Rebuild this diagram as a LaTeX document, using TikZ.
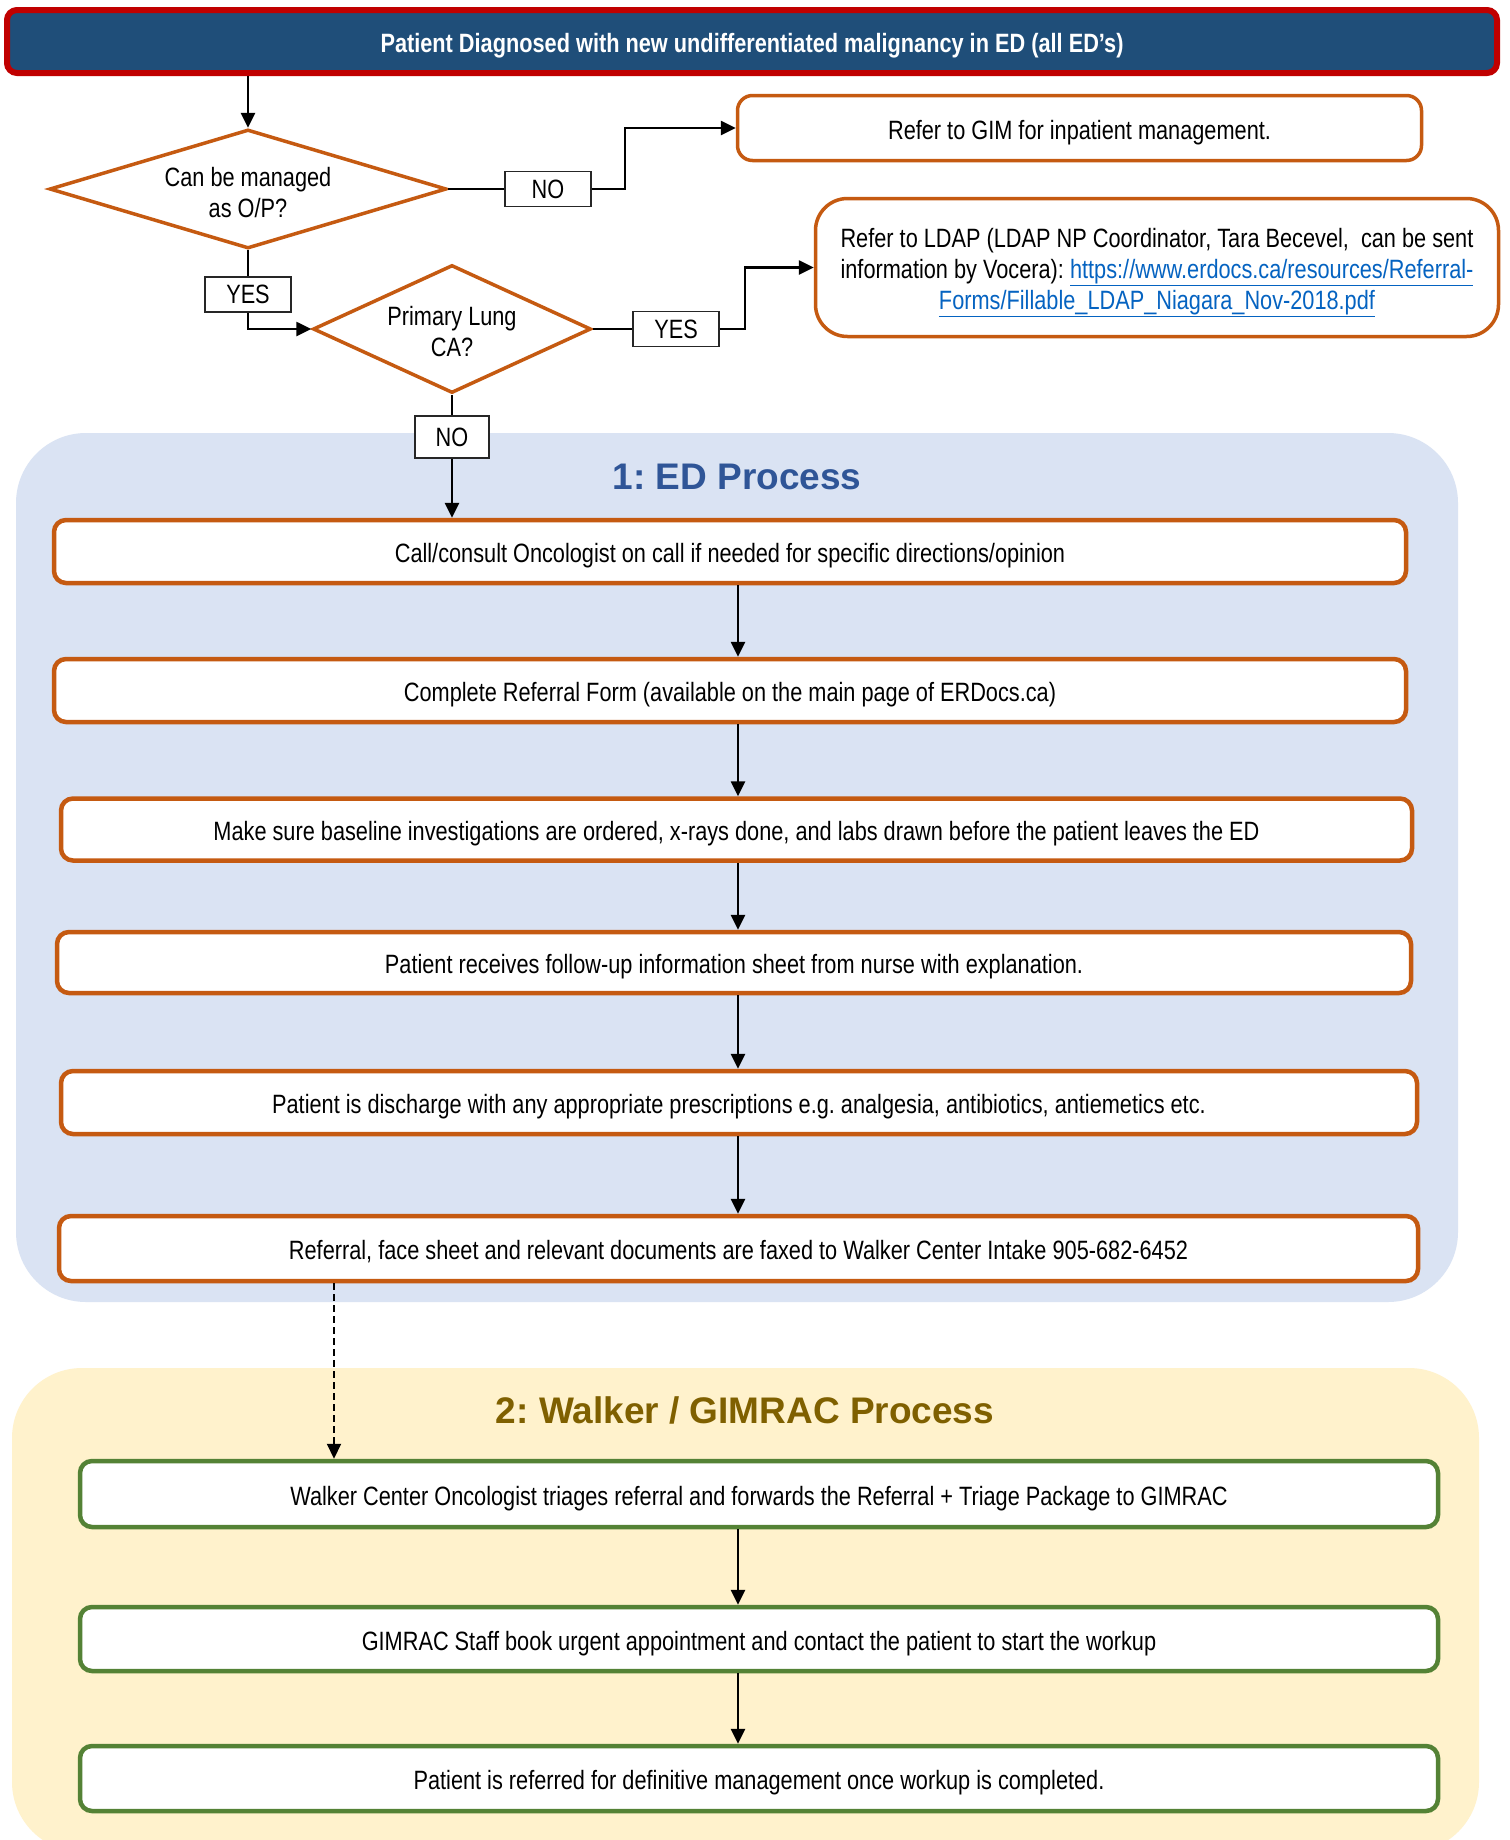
\documentclass[tikz,border=0pt]{standalone}
\usepackage{fontspec}
\setmainfont{Liberation Sans}[FakeStretch=0.82]
\newfontfamily\titlefont{Liberation Sans}
\usetikzlibrary{arrows.meta,shapes.geometric,calc}
\definecolor{hdrblue}{HTML}{1F4E79}
\definecolor{hdrred}{HTML}{C00000}
\definecolor{orng}{HTML}{C55A11}
\definecolor{grn}{HTML}{548235}
\definecolor{edfill}{HTML}{DAE3F3}
\definecolor{wkfill}{HTML}{FFF2CC}
\definecolor{edtitle}{HTML}{2F5597}
\definecolor{wktitle}{HTML}{7F6000}
\definecolor{linkblue}{HTML}{0563C1}
\frenchspacing
\begin{document}
\begin{tikzpicture}[x=1pt,y=-1pt,
  every node/.style={font=\fontsize{26.5}{31}\selectfont},
  obox/.style={draw=orng, line width=4.5pt, rounded corners=12pt, fill=white, inner sep=0pt, text height=22pt, text depth=0pt},
  gbox/.style={draw=grn, line width=4.5pt, rounded corners=12pt, fill=white, inner sep=0pt, text height=22pt, text depth=0pt},
  lbl/.style={draw=black!85, line width=1.5pt, fill=white, minimum width=86pt, minimum height=35pt, inner sep=0pt},
  dec/.style={diamond, draw=orng, line width=3.5pt, fill=white, inner sep=0pt},
  conn/.style={line width=2.6pt, black},
  arr/.style={conn, -{Triangle[length=15pt,width=14pt]}},
  ttl/.style={font=\titlefont\bfseries\fontsize{37}{44}\selectfont}
]
\useasboundingbox (0,0) rectangle (1510,1840);
\fill[white] (0,0) rectangle (1510,1840);
\begin{scope}
\clip (0,0) rectangle (1510,1840);
\fill[edfill, rounded corners=70pt] (16,433) rectangle (1458,1302);
\fill[wkfill, rounded corners=70pt] (12,1368) rectangle (1479,1852);
\end{scope}

% header
\node[draw=hdrred, line width=6pt, fill=hdrblue, rounded corners=10pt, minimum width=1490pt, minimum height=63pt, inner sep=0pt, text height=21pt, text depth=0pt, text=white, font=\bfseries\fontsize{26.5}{31}\selectfont] (hdr) at (752,41.5) {Patient Diagnosed with new undifferentiated malignancy in ED (all ED’s)};

% decisions
\node[dec, minimum width=397pt, minimum height=119pt, shape aspect=3.34, text height=0pt, text depth=5pt] (d1) at (248,189) {\begin{tabular}[t]{@{}c@{}}Can be managed\\as O/P?\end{tabular}};
\node[dec, minimum width=278pt, minimum height=128pt, shape aspect=2.17, text height=0pt, text depth=8pt] (d2) at (452,329) {\begin{tabular}[t]{@{}c@{}}Primary Lung\\CA?\end{tabular}};

% side boxes
\node[draw=orng, line width=3.5pt, rounded corners=15pt, fill=white, minimum width=684pt, minimum height=65pt, inner sep=0pt, text height=22pt, text depth=0pt] (gim) at (1079.5,128) {Refer to GIM for inpatient management.};
\node[draw=orng, line width=3.5pt, rounded corners=32pt, fill=white, minimum width=683pt, minimum height=138pt, inner sep=0pt, text height=0pt, text depth=41pt] (ldap) at (1157,267.5) {\begin{tabular}[t]{@{}c@{}}Refer to LDAP (LDAP NP Coordinator, Tara Becevel,\ \ can be sent\\information by Vocera): \textcolor{linkblue}{\underline{https://www.erdocs.ca/resources/Referral-}}\\\textcolor{linkblue}{\underline{Forms/Fillable\_LDAP\_Niagara\_Nov-2018.pdf}}\end{tabular}};

% labels
\node[lbl] (no1) at (548,189) {NO};
\node[lbl] (yes1) at (248,294.5) {YES};
\node[lbl] (yes2) at (676,329) {YES};
\node[lbl, minimum width=74pt, minimum height=42pt] (no2) at (452,437) {NO};

% titles
\node[ttl, text=edtitle] (t1) at (737,477) {1: ED Process};
\node[ttl, text=wktitle] (t2) at (745,1410) {2: Walker / GIMRAC Process};

% ED boxes
\node[obox, minimum width=1352pt, minimum height=63pt] (b1) at (730,551.5) {Call/consult Oncologist on call if needed for specific directions/opinion};
\node[obox, minimum width=1352pt, minimum height=63pt] (b2) at (730,690.5) {Complete Referral Form (available on the main page of ERDocs.ca)};
\node[obox, minimum width=1351pt, minimum height=62pt] (b3) at (736.5,829.5) {Make sure baseline investigations are ordered, x-rays done, and labs drawn before the patient leaves the ED};
\node[obox, minimum width=1354pt, minimum height=61pt] (b4) at (734,962.5) {Patient receives follow-up information sheet from nurse with explanation.};
\node[obox, minimum width=1356pt, minimum height=63pt] (b5) at (739,1102.5) {Patient is discharge with any appropriate prescriptions e.g. analgesia, antibiotics, antiemetics etc.};
\node[obox, minimum width=1359pt, minimum height=65pt] (b6) at (738.5,1248.5) {Referral, face sheet and relevant documents are faxed to Walker Center Intake 905-682-6452};

% Walker boxes
\node[gbox, minimum width=1358pt, minimum height=66pt] (g1) at (759,1494) {Walker Center Oncologist triages referral and forwards the Referral + Triage Package to GIMRAC};
\node[gbox, minimum width=1358pt, minimum height=64pt] (g2) at (759,1639) {GIMRAC Staff book urgent appointment and contact the patient to start the workup};
\node[gbox, minimum width=1358pt, minimum height=65pt] (g3) at (759,1778.5) {Patient is referred for definitive management once workup is completed.};

% connectors
\draw[arr] (hdr.south -| d1.north) -- (d1.north);
\draw[conn] (d1.east) -- (no1.west);
\coordinate (k1) at (625,189);
\draw[arr] (no1.east) -- (k1) |- (gim.west);
\draw[conn] (d1.south) -- (yes1.north);
\draw[arr] (yes1.south) |- (d2.west);
\draw[conn] (d2.east) -- (yes2.west);
\coordinate (k2) at (745,329);
\draw[arr] (yes2.east) -- (k2) |- (ldap.west);
\draw[conn] (d2.south) -- (no2.north);
\draw[arr] (no2.south) -- (no2.south |- b1.north);

\coordinate (ax) at (738,0);
\draw[arr] (b1.south -| ax) -- (b2.north -| ax);
\draw[arr] (b2.south -| ax) -- (b3.north -| ax);
\draw[arr] (b3.south -| ax) -- (b4.north -| ax);
\draw[arr] (b4.south -| ax) -- (b5.north -| ax);
\draw[arr] (b5.south -| ax) -- (b6.north -| ax);
\coordinate (dx) at (334,0);
\draw[arr, line width=2pt, dash pattern=on 7pt off 4pt] (b6.south -| dx) -- (g1.north -| dx);
\draw[arr] (g1.south -| ax) -- (g2.north -| ax);
\draw[arr] (g2.south -| ax) -- (g3.north -| ax);
\end{tikzpicture}
\end{document}
